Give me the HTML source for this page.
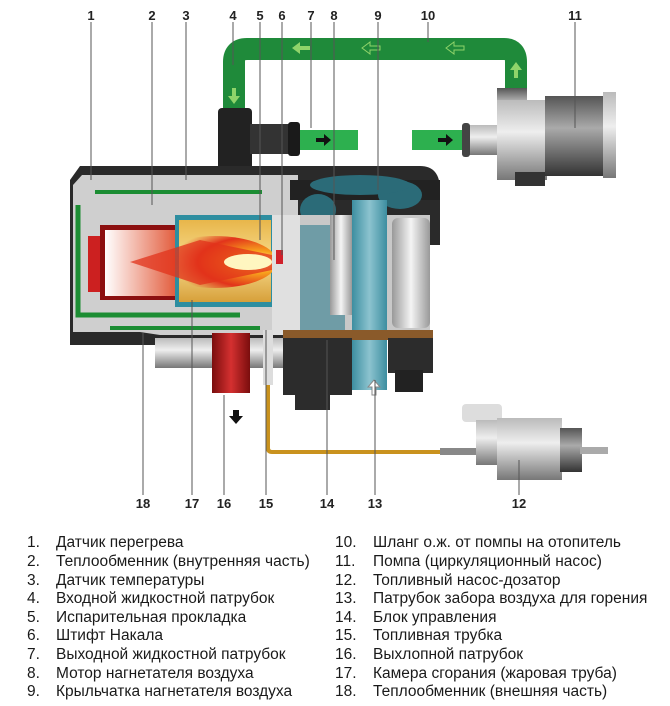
<!DOCTYPE html>
<html><head><meta charset="utf-8"><style>
body{margin:0;background:#fff;}
svg{display:block}
.n{font:bold 13px "Liberation Sans",sans-serif;fill:#222}
.lg{font:15.5px "Liberation Sans",sans-serif;fill:#1a1a1a}
</style></head><body>
<svg width="670" height="706" viewBox="0 0 670 706" xmlns="http://www.w3.org/2000/svg">
<defs>
<linearGradient id="gr" x1="0" y1="0" x2="0" y2="1"><stop offset="0" stop-color="#bbb"/><stop offset=".4" stop-color="#eee"/><stop offset="1" stop-color="#777"/></linearGradient>
<linearGradient id="dk" x1="0" y1="0" x2="0" y2="1"><stop offset="0" stop-color="#555"/><stop offset=".4" stop-color="#aaa"/><stop offset="1" stop-color="#333"/></linearGradient>
<linearGradient id="bl" x1="0" y1="0" x2="1" y2="0"><stop offset="0" stop-color="#3d8ea0"/><stop offset=".5" stop-color="#8cc3cf"/><stop offset="1" stop-color="#3d8ea0"/></linearGradient>
<linearGradient id="cy" x1="0" y1="0" x2="1" y2="0"><stop offset="0" stop-color="#999"/><stop offset=".5" stop-color="#f4f4f4"/><stop offset="1" stop-color="#999"/></linearGradient>
<linearGradient id="rd" x1="0" y1="0" x2="1" y2="0"><stop offset="0" stop-color="#7a0d0d"/><stop offset=".5" stop-color="#d43030"/><stop offset="1" stop-color="#7a0d0d"/></linearGradient>
<radialGradient id="fl" cx=".85" cy=".5" r=".7"><stop offset="0" stop-color="#fff6c0"/><stop offset=".3" stop-color="#f7a21c"/><stop offset=".7" stop-color="#e2331b"/><stop offset="1" stop-color="#e2331b" stop-opacity="0"/></radialGradient>
<linearGradient id="yl" x1="0" y1="0" x2="0" y2="1"><stop offset="0" stop-color="#e8b64a"/><stop offset=".5" stop-color="#f7dc8e"/><stop offset="1" stop-color="#d7a03a"/></linearGradient>
<linearGradient id="rc" x1="0" y1="0" x2="1" y2="0"><stop offset="0" stop-color="#fff"/><stop offset="1" stop-color="#e25a3a"/></linearGradient>
</defs>

<path d="M234 112 V62 Q234 49 247 49 H504 Q516 49 516 62 V88" fill="none" stroke="#1f8a3a" stroke-width="22"/>
<path d="M300 130 H358 V150 H300Z M412 130 H470 V150 H412Z" fill="#2db04f"/>
<g fill="#8fd46a"><path d="M292 48 l8 -6 v4 h10 v4 h-10 v4z"/><path d="M362 48 l8 -6 v4 h10 v4 h-10 v4z" fill="none" stroke="#8fd46a"/><path d="M446 48 l8 -6 v4 h10 v4 h-10 v4z" fill="none" stroke="#8fd46a"/><path d="M234 104 l-6 -8 h4 v-8 h4 v8 h4z"/><path d="M516 62 l-6 8 h4 v8 h4 v-8 h4z"/></g>
<path d="M316 138 h8 v-4 l7 6 -7 6 v-4 h-8z M438 138 h8 v-4 l7 6 -7 6 v-4 h-8z" fill="#111"/>

<rect x="466" y="125" width="32" height="30" fill="url(#gr)"/>
<rect x="462" y="123" width="8" height="34" rx="3" fill="#444"/>
<rect x="497" y="88" width="30" height="30" fill="url(#dk)"/>
<rect x="497" y="100" width="50" height="80" fill="url(#gr)"/>
<rect x="515" y="172" width="30" height="14" fill="#333"/>
<rect x="545" y="96" width="60" height="80" fill="url(#dk)"/>
<rect x="603" y="92" width="13" height="86" fill="url(#gr)"/>

<rect x="218" y="108" width="34" height="62" rx="4" fill="#222"/>
<rect x="250" y="124" width="42" height="30" fill="#333"/>
<rect x="288" y="122" width="12" height="34" rx="3" fill="#1a1a1a"/>

<path d="M70 180 L80 166 H420 Q440 166 440 190 V245 L428 245 V335 H300 V345 H70Z" fill="#2a2a2a"/>
<path d="M73 185 L82 175 H298 V335 H160 L140 332 H73Z" fill="#cfcfcf"/>
<path d="M78 205 V315 H240" fill="none" stroke="#1c8d33" stroke-width="5"/>
<path d="M95 192 H262" fill="none" stroke="#1c8d33" stroke-width="4"/>
<path d="M110 328 H260" stroke="#1c8d33" stroke-width="4"/>
<rect x="88" y="236" width="18" height="56" fill="#cc2020"/>
<rect x="100" y="225" width="82" height="75" fill="#8c1010"/>
<rect x="105" y="230" width="72" height="66" fill="url(#rc)"/>
<rect x="175" y="215" width="100" height="92" fill="#2e8ea0"/>
<rect x="179" y="220" width="92" height="82" fill="url(#yl)"/>
<ellipse cx="215" cy="262" rx="62" ry="26" fill="url(#fl)"/>
<path d="M130 262 L200 240 L272 255 V270 L200 285Z" fill="#e2331b" opacity=".75"/>
<ellipse cx="248" cy="262" rx="24" ry="8" fill="#fff6c0"/>
<rect x="272" y="215" width="30" height="120" fill="#e0e0e0"/>
<rect x="276" y="250" width="7" height="14" fill="#d0202a"/>
<path d="M290 180 H440 V200 H290Z" fill="#222"/>
<ellipse cx="318" cy="210" rx="18" ry="16" fill="#2b6b78"/>
<ellipse cx="400" cy="195" rx="22" ry="14" fill="#2b6b78"/>
<ellipse cx="360" cy="185" rx="50" ry="10" fill="#2b6b78"/>
<rect x="300" y="215" width="130" height="120" fill="#c8c8c8"/>
<path d="M300 225 H345 V330 H300Z" fill="#6f9ca6"/>
<rect x="330" y="215" width="22" height="100" fill="url(#cy)"/>
<rect x="392" y="218" width="38" height="110" rx="6" fill="url(#cy)"/>
<rect x="352" y="200" width="35" height="190" fill="url(#bl)"/>
<rect x="283" y="330" width="150" height="10" fill="#8a5a2a"/>
<path d="M283 338 H352 V395 H330 V410 H295 V395 H283Z" fill="#2c2c2c"/>
<rect x="388" y="338" width="45" height="35" fill="#2c2c2c"/>
<rect x="395" y="370" width="28" height="22" fill="#222"/>
<rect x="155" y="338" width="128" height="30" fill="url(#gr)"/>
<rect x="212" y="333" width="38" height="60" fill="url(#rd)"/>
<path d="M233 410 h6 v6 h4 l-7 8 -7 -8 h4z" fill="#111"/>
<rect x="263" y="330" width="10" height="55" fill="#ddd"/>
<path d="M268 385 V448 Q268 452 272 452 H440" fill="none" stroke="#c9921e" stroke-width="4"/>
<rect x="462" y="404" width="40" height="18" rx="4" fill="#ddd"/>
<rect x="440" y="448" width="40" height="7" fill="#888"/>
<rect x="476" y="420" width="24" height="45" fill="url(#gr)"/>
<rect x="497" y="418" width="65" height="62" fill="url(#gr)"/>
<rect x="560" y="428" width="22" height="44" fill="url(#dk)"/>
<rect x="580" y="447" width="28" height="7" fill="#aaa"/>
<path d="M372 395 h4 v-8 h4 l-6 -7 -6 7 h4z" fill="#fff" stroke="#888"/>

<g stroke="#555" stroke-width="1">
<path d="M91 22V180 M152 22V205 M186 22V180 M233 22V65 M260 22V240 M282 22V255 M311 22V128 M334 22V260 M378 22V190 M428 22V42 M575 22V128"/>
<path d="M143 495V333 M192 495V300 M224 495V395 M266 495V330 M327 495V340 M375 495V380 M519 495V460"/>
</g>
<g class="n" text-anchor="middle">
<text x="91" y="20">1</text><text x="152" y="20">2</text><text x="186" y="20">3</text><text x="233" y="20">4</text><text x="260" y="20">5</text><text x="282" y="20">6</text><text x="311" y="20">7</text><text x="334" y="20">8</text><text x="378" y="20">9</text><text x="428" y="20">10</text><text x="575" y="20">11</text>
<text x="143" y="508">18</text><text x="192" y="508">17</text><text x="224" y="508">16</text><text x="266" y="508">15</text><text x="327" y="508">14</text><text x="375" y="508">13</text><text x="519" y="508">12</text>
</g>

<g class="lg">
<text x="27" y="547">1.</text><text x="56" y="547">Датчик перегрева</text>
<text x="27" y="566">2.</text><text x="56" y="566">Теплообменник (внутренняя часть)</text>
<text x="27" y="585">3.</text><text x="56" y="585">Датчик температуры</text>
<text x="27" y="603">4.</text><text x="56" y="603">Входной жидкостной патрубок</text>
<text x="27" y="622">5.</text><text x="56" y="622">Испарительная прокладка</text>
<text x="27" y="640">6.</text><text x="56" y="640">Штифт Накала</text>
<text x="27" y="659">7.</text><text x="56" y="659">Выходной жидкостной патрубок</text>
<text x="27" y="678">8.</text><text x="56" y="678">Мотор нагнетателя воздуха</text>
<text x="27" y="696">9.</text><text x="56" y="696">Крыльчатка нагнетателя воздуха</text>
<text x="335" y="547">10.</text><text x="373" y="547">Шланг о.ж. от помпы на отопитель</text>
<text x="335" y="566">11.</text><text x="373" y="566">Помпа (циркуляционный насос)</text>
<text x="335" y="585">12.</text><text x="373" y="585">Топливный насос-дозатор</text>
<text x="335" y="603">13.</text><text x="373" y="603">Патрубок забора воздуха для горения</text>
<text x="335" y="622">14.</text><text x="373" y="622">Блок управления</text>
<text x="335" y="640">15.</text><text x="373" y="640">Топливная трубка</text>
<text x="335" y="659">16.</text><text x="373" y="659">Выхлопной патрубок</text>
<text x="335" y="678">17.</text><text x="373" y="678">Камера сгорания (жаровая труба)</text>
<text x="335" y="696">18.</text><text x="373" y="696">Теплообменник (внешняя часть)</text>
</g>
</svg>
</body></html>
